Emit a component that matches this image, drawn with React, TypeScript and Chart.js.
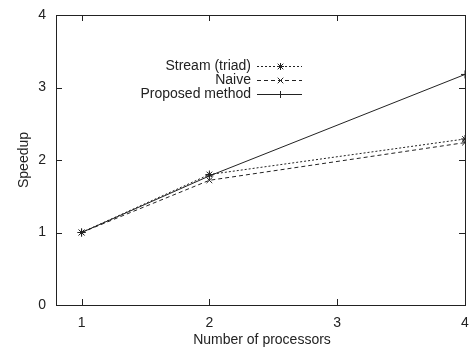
import React, { useEffect, useRef } from "react";
import { Chart, registerables } from "chart.js";

Chart.register(...registerables);

const processors = [1, 2, 4];
const streamTriad = [1, 1.8, 2.29];
const naive = [1, 1.72, 2.24];
const proposed = [1, 1.78, 3.18];
const xTicks = [1, 2, 3, 4];
const yTicks = [0, 1, 2, 3, 4];
const seriesNames = ["Stream (triad)", "Naive", "Proposed method"];

const INK = "#222";
const FAMILY = "'Liberation Sans', Arial, sans-serif";
const FONT = "14px " + FAMILY;

const framePlugin = {
  id: "frame",
  afterDatasetsDraw(chart: any) {
    const { ctx, chartArea: a, scales } = chart;
    const xs = scales.x;
    const ys = scales.y;
    ctx.save();
    ctx.strokeStyle = INK;
    ctx.lineWidth = 1;
    ctx.setLineDash([]);
    ctx.strokeRect(Math.round(a.left) + 0.5, Math.round(a.top) + 0.5, Math.round(a.right - a.left), Math.round(a.bottom - a.top));
    const tl = 6;
    ctx.beginPath();
    xTicks.forEach((v) => {
      const px = Math.round(xs.getPixelForValue(v)) + 0.5;
      ctx.moveTo(px, a.bottom);
      ctx.lineTo(px, a.bottom - tl);
      ctx.moveTo(px, a.top);
      ctx.lineTo(px, a.top + tl);
    });
    yTicks.forEach((v) => {
      const py = Math.round(ys.getPixelForValue(v)) + 0.5;
      ctx.moveTo(a.left, py);
      ctx.lineTo(a.left + tl, py);
      ctx.moveTo(a.right, py);
      ctx.lineTo(a.right - tl, py);
    });
    ctx.stroke();

    // axis titles
    ctx.fillStyle = INK;
    ctx.font = FONT;
    ctx.textAlign = "center";
    ctx.textBaseline = "middle";
    ctx.fillText("Number of processors", 262, 340);
    ctx.save();
    ctx.translate(24, (a.top + a.bottom) / 2);
    ctx.rotate(-Math.PI / 2);
    ctx.fillText("Speedup", 0, 0);
    ctx.restore();

    // legend
    const textRight = 251;
    const lineL = 257;
    const lineR = 302;
    const rows = [66, 80, 94];
    chart.data.datasets.forEach((ds: any, i: number) => {
      const y = rows[i];
      ctx.fillStyle = INK;
      ctx.textAlign = "right";
      ctx.fillText(seriesNames[i], textRight, y);
      ctx.strokeStyle = INK;
      ctx.lineWidth = 1;
      ctx.setLineDash(ds.borderDash || []);
      ctx.beginPath();
      ctx.moveTo(lineL, y + 0.5);
      ctx.lineTo(lineR, y + 0.5);
      ctx.stroke();
      ctx.setLineDash([]);
      const mx = Math.round((lineL + lineR) / 2) + 0.5;
      const r = 3.5;
      ctx.beginPath();
      if (ds.pointStyle === "star" || ds.pointStyle === "cross") {
        ctx.moveTo(mx - r, y + 0.5);
        ctx.lineTo(mx + r, y + 0.5);
        ctx.moveTo(mx, y - r + 0.5);
        ctx.lineTo(mx, y + r + 0.5);
      }
      if (ds.pointStyle === "star" || ds.pointStyle === "crossRot") {
        const d = r * 0.8;
        ctx.moveTo(mx - d, y + 0.5 - d);
        ctx.lineTo(mx + d, y + 0.5 + d);
        ctx.moveTo(mx - d, y + 0.5 + d);
        ctx.lineTo(mx + d, y + 0.5 - d);
      }
      ctx.stroke();
    });
    ctx.restore();
  },
};

export default function App() {
  const ref = useRef<HTMLCanvasElement>(null);
  useEffect(() => {
    document.body.style.margin = "0";
    const mk = (vals: number[]) => processors.map((p, i) => ({ x: p, y: vals[i] }));
    const chart = new Chart(ref.current as HTMLCanvasElement, {
      type: "line",
      data: {
        datasets: [
          {
            label: seriesNames[0],
            data: mk(streamTriad),
            borderColor: INK,
            borderWidth: 1,
            borderDash: [2, 2],
            pointStyle: "star",
            pointRadius: 4,
            pointBorderColor: INK,
            pointBorderWidth: 1,
            fill: false,
          },
          {
            label: seriesNames[1],
            data: mk(naive),
            borderColor: INK,
            borderWidth: 1,
            borderDash: [4, 3],
            pointStyle: "crossRot",
            pointRadius: 4,
            pointBorderColor: INK,
            pointBorderWidth: 1,
            fill: false,
          },
          {
            label: seriesNames[2],
            data: mk(proposed),
            borderColor: INK,
            borderWidth: 1,
            pointStyle: "cross",
            pointRadius: 4,
            pointBorderColor: INK,
            pointBorderWidth: 1,
            fill: false,
          },
        ],
      },
      options: {
        animation: false,
        responsive: false,
        layout: { padding: { top: 15, right: 5, left: 0, bottom: 0 } },
        plugins: { legend: { display: false }, tooltip: { enabled: false } },
        scales: {
          x: {
            type: "linear",
            min: 0.8,
            max: 4,
            afterBuildTicks: (s: any) => {
              s.ticks = xTicks.map((v) => ({ value: v }));
            },
            afterFit: (s: any) => {
              s.height = 46;
              s.paddingLeft = 0;
              s.paddingRight = 0;
            },
            grid: { display: false, drawTicks: false },
            border: { display: false },
            ticks: {
              padding: 10,
              color: INK,
              maxRotation: 0,
              font: { family: FAMILY, size: 14 },
            },
          },
          y: {
            type: "linear",
            min: 0,
            max: 4,
            afterBuildTicks: (s: any) => {
              s.ticks = yTicks.map((v) => ({ value: v }));
            },
            afterFit: (s: any) => {
              s.width = 56;
              s.paddingTop = 0;
              s.paddingBottom = 0;
            },
            grid: { display: false, drawTicks: false },
            border: { display: false },
            ticks: {
              padding: 10,
              color: INK,
              font: { family: FAMILY, size: 14 },
            },
          },
        },
      },
      plugins: [framePlugin],
    });
    return () => chart.destroy();
  }, []);
  return (
    <div style={{ width: 470, height: 351 }}>
      <canvas ref={ref} width={470} height={351} style={{ display: "block" }} />
    </div>
  );
}
